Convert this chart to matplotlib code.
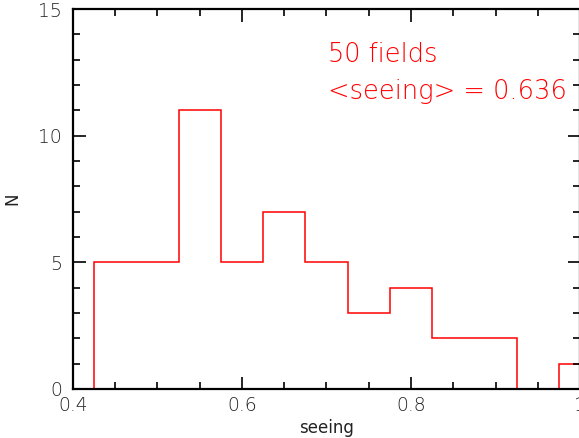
import numpy as np
import matplotlib
matplotlib.use("Agg")
import matplotlib.pyplot as plt
from matplotlib.ticker import MultipleLocator

# ---------------------------
# Data
# ---------------------------
bin_edges = [0.375, 0.425, 0.475, 0.525, 0.575, 0.625, 0.675, 0.725,
             0.775, 0.825, 0.875, 0.925, 0.975, 1.025]
counts = [0, 5, 5, 11, 5, 7, 5, 3, 4, 2, 2, 0, 1]
n_fields = 50
mean_seeing = 0.636

plt.rcParams['font.family'] = ['DejaVu Sans']
plt.rcParams['font.weight'] = 'light'

fig = plt.figure(figsize=(5.79, 4.38), dpi=100)
ax = fig.add_axes([73 / 579, 49 / 438, 507 / 579, 380 / 438])

ax.stairs(counts, bin_edges, color='red', linewidth=1.1)

ax.set_xlim(0.4, 1.0)
ax.set_ylim(0, 15)
ax.xaxis.set_major_locator(MultipleLocator(0.2))
ax.xaxis.set_minor_locator(MultipleLocator(0.05))
ax.yaxis.set_major_locator(MultipleLocator(5))
ax.yaxis.set_minor_locator(MultipleLocator(1))
ax.xaxis.set_major_formatter(plt.FuncFormatter(lambda v, p: f"{v:g}"))

ax.tick_params(which='both', direction='in', top=True, right=True,
               labelsize=13.5, width=1.2, colors='black', labelcolor='#222222')
ax.tick_params(which='major', length=9)
ax.tick_params(axis='x', which='major', pad=5)
ax.tick_params(axis='y', which='major', pad=8)
ax.tick_params(which='minor', length=5)
for s in ax.spines.values():
    s.set_linewidth(1.6)

ax.set_xlabel("seeing", fontsize=12, labelpad=3, color='#222222')
ax.set_ylabel("N", fontsize=12, labelpad=12, color='#222222')

ax.text(0.503, 0.861, f"{n_fields} fields", transform=ax.transAxes,
        color='red', fontsize=18.5, ha='left', va='baseline')
ax.text(0.503, 0.763, f"<seeing> = {mean_seeing:.3f}", transform=ax.transAxes,
        color='red', fontsize=18.5, ha='left', va='baseline')

fig.savefig("out.png", dpi=100)
